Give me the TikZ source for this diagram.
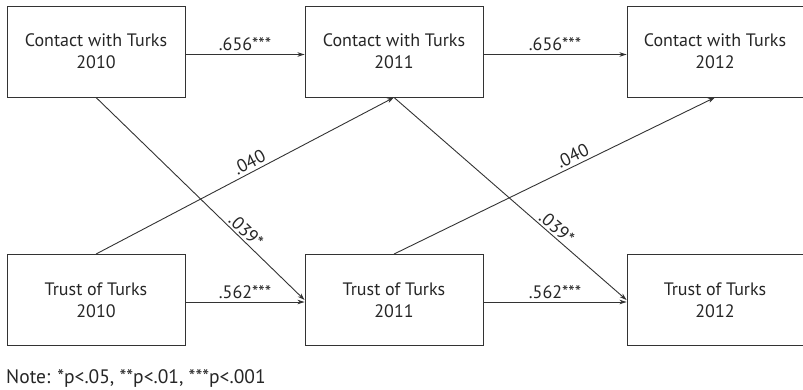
\documentclass[tikz,border=0pt]{standalone}
\usepackage{fontspec}
\setmainfont{PT Sans}
\usetikzlibrary{arrows.meta,calc}
\begin{document}
\begin{tikzpicture}[x=1pt,y=-1pt,
  box/.style={draw=black!80, line width=0.9pt, minimum width=178pt, minimum height=91pt, align=center, inner sep=0pt, font=\fontsize{18}{22}\selectfont, text=black!85},
  arr/.style={draw=black!80, line width=0.9pt, -{Stealth[length=7pt,width=4.5pt,inset=2pt]}},
  lab/.style={font=\fontsize{18}{18}\selectfont, text=black!85, inner sep=1pt}]
\useasboundingbox (0,0) rectangle (803,390);
\node[box] (c10) at (96,51.5) {Contact with Turks\\2010};
\node[box] (c11) at (394,51.5) {Contact with Turks\\2011};
\node[box, minimum width=176pt] (c12) at (715,51.5) {Contact with Turks\\2012};
\node[box] (t10) at (96,300) {Trust of Turks\\2010};
\node[box] (t11) at (394,300) {Trust of Turks\\2011};
\node[box, minimum width=176pt] (t12) at (715,300) {Trust of Turks\\2012};
\draw[arr] ([yshift=-3pt]c10.east) -- node[lab, above=2pt] {.656***} ([yshift=-3pt]c11.west);
\draw[arr] ([yshift=-3pt]c11.east) -- node[lab, above=2pt] {.656***} ([yshift=-3pt]c12.west);
\draw[arr] ([yshift=-2pt]t10.east) -- node[lab, above=2pt] {.562***} ([yshift=-2pt]t11.west);
\draw[arr] ([yshift=-2pt]t11.east) -- node[lab, above=2pt] {.562***} ([yshift=-2pt]t12.west);
\draw[arr] (c10.south) -- node[lab, pos=0.69, sloped, above=1pt] {.039*} (t11.west);
\draw[arr] (c11.south) -- node[lab, pos=0.675, sloped, above=1pt] {.039*} (t12.west);
\draw[arr] (t10.north) -- node[lab, pos=0.53, sloped, above=2pt] {.040} (c11.south);
\draw[arr] (t11.north) -- node[lab, pos=0.57, sloped, above=2pt] {.040} (c12.south);
\node[font=\fontsize{19.5}{22}\selectfont, text=black!85, anchor=west, inner sep=0pt] (note) at (6,378) {Note: *p<.05, **p<.01, ***p<.001};
\end{tikzpicture}
\end{document}
